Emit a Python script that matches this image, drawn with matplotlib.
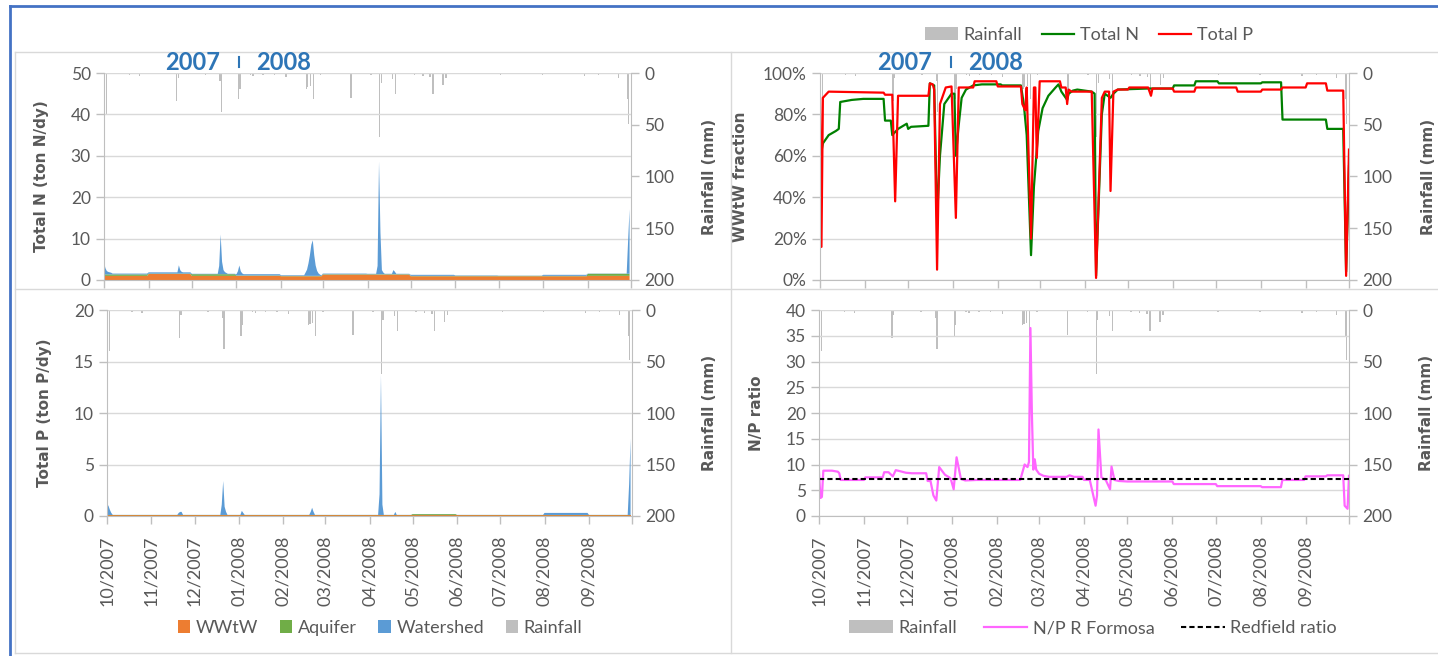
import matplotlib
matplotlib.use('Agg')
import matplotlib.pyplot as plt
from matplotlib.lines import Line2D
import numpy as np

plt.rcParams['font.family'] = ['Lato', 'DejaVu Sans']

W, H = 1438, 656

# days counted from 01/10/2007 (hydrological year 2007/2008)
month_labels = ['10/2007', '11/2007', '12/2007', '01/2008', '02/2008', '03/2008',
                '04/2008', '05/2008', '06/2008', '07/2008', '08/2008', '09/2008']
month_lengths = [31, 30, 31, 31, 29, 31, 30, 31, 30, 31, 31, 30]

# rainfall (mm) on the days it rained
rain_days = [0, 1, 9, 17, 24, 38, 50, 51, 62, 70, 80, 81, 93, 94, 101, 103, 110, 118,
             126, 140, 141, 143, 145, 150, 160, 171, 185, 191, 192, 200, 202, 215,
             221, 226, 228, 235, 237, 250, 275, 304, 318, 333, 343, 357, 363, 364]
rain_mm = [16, 40, 1, 2, 3, 1, 27, 5, 1, 2, 8, 38, 25, 15, 2, 3, 2, 2,
           4, 15, 14, 13, 25, 2, 1, 24, 2, 62, 10, 6, 20, 2,
           3, 4, 20, 12, 5, 1, 2, 2, 1, 3, 2, 5, 25, 49]

# Total N loads (ton N/dy): monthly WWtW and aquifer, daily watershed
wwtw_n = [1.0, 1.45, 1.0, 1.0, 0.9, 1.3, 1.3, 0.9, 0.9, 0.9, 0.9, 1.0]
aquifer_n = [0.35, 0.1, 0.4, 0.1, 0.1, 0.1, 0.1, 0.1, 0.1, 0.1, 0.1, 0.5]
watershed_n_base = [0.2, 0.3, 0.1, 0.3, 0.15, 0.15, 0.1, 0.25, 0.1, 0.05, 0.25, 0.05]
ws_n_days = [0, 1, 2, 3, 4, 5, 52, 53, 54, 80, 81, 82, 83, 84, 85, 93, 94, 95, 96,
             140, 141, 142, 143, 144, 145, 146, 147, 148, 149, 150,
             190, 191, 192, 193, 194, 201, 202, 364, 365]
ws_n_vals = [3.0, 1.5, 0.8, 0.6, 0.5, 0.4, 2.0, 0.8, 0.4, 2.0, 9.6, 3.0, 1.0, 0.5, 0.3,
             1.0, 2.4, 1.0, 0.5,
             0.8, 1.5, 3.0, 5.0, 7.5, 8.6, 5.0, 2.5, 1.2, 0.6, 0.3,
             2.0, 27.2, 10.0, 1.0, 0.4, 1.0, 0.6, 8.0, 15.6]

# Total P loads (ton P/dy)
wwtw_p = [0.08] * 12
aquifer_p = [0.02, 0.02, 0.02, 0.02, 0.02, 0.02, 0.02, 0.1, 0.02, 0.02, 0.02, 0.02]
watershed_p_base = [0.01, 0.01, 0.01, 0.01, 0.01, 0.01, 0.01, 0.01, 0.01, 0.01, 0.2, 0.01]
ws_p_days = [0, 1, 2, 3, 50, 51, 52, 80, 81, 82, 83, 94, 95, 142, 143, 144,
             190, 191, 192, 201, 364, 365]
ws_p_vals = [1.0, 0.9, 0.5, 0.2, 0.2, 0.3, 0.3, 1.0, 3.3, 0.8, 0.3, 0.4, 0.2, 0.3, 0.7, 0.3,
             2.0, 13.6, 1.0, 0.3, 3.0, 7.4]

# WWtW fraction of the loads (%)
frac_n_days = [0, 1, 2, 6, 11, 13, 14, 22, 30, 44, 45, 49, 50, 54, 60, 61, 63, 75, 76, 79,
               81, 83, 86, 91, 93, 94, 96, 98, 101, 106, 112, 125, 126, 139, 141, 143, 146,
               148, 151, 154, 158, 163, 165, 167, 171, 172, 175, 178, 188, 190, 191, 195,
               197, 201, 203, 206, 227, 244, 245, 259, 260, 275, 276, 305, 306, 319, 320,
               350, 351, 362, 364, 366]
frac_n_vals = [55, 62, 66, 70, 72, 73, 86, 87, 87.5, 87.5, 77, 77, 70, 73, 75.5, 73, 74, 74.5, 95, 94,
               30, 60, 85, 90, 90, 60, 75, 88, 92, 94, 94.5, 94.5, 94, 94, 85, 70, 12,
               45, 72, 83, 89, 93, 94.5, 91, 87, 90, 91.5, 92, 91, 90, 2, 80,
               90, 88, 90, 92, 92.5, 92.5, 94, 94, 96, 96, 95, 95, 95.5, 95.5, 77.5,
               77.5, 73, 73, 4, 55]
frac_p_days = [0, 1, 2, 6, 44, 45, 50, 52, 54, 75, 76, 78, 79, 81, 83, 87, 91, 94, 96,
               106, 107, 122, 123, 139, 140, 142, 143, 146, 148, 149, 150, 152, 166, 167,
               170, 171, 172, 174, 188, 191, 195, 197, 200, 201, 203, 206, 213, 214, 227,
               229, 230, 244, 245, 259, 260, 288, 289, 305, 306, 319, 320, 336, 337, 350,
               351, 362, 364, 366]
frac_p_vals = [88, 16, 88, 91, 90.5, 89.5, 89.5, 38, 89, 89, 95, 94.5, 92, 5, 85, 93, 93.5, 30, 93,
               93, 96, 96, 93.5, 93.5, 85, 82, 93, 20, 93, 93, 59, 96, 96, 93,
               93, 85, 92, 91, 91, 1, 88, 91, 91, 43, 91, 92, 92, 93, 93,
               89, 92.5, 92.5, 91, 91, 93, 93, 91, 91, 92, 92, 93, 93, 95, 95,
               91.5, 91.5, 2, 63]

# N/P ratio of the Ria Formosa loads
np_days = [0, 1, 2, 3, 9, 13, 14, 15, 31, 32, 44, 45, 48, 51, 53, 56, 60, 64, 74, 75, 77, 79,
           81, 83, 87, 90, 91, 93, 95, 98, 101, 109, 139, 142, 144, 145, 146, 147, 148, 149,
           150, 152, 155, 159, 171, 173, 176, 182, 183, 187, 191, 192, 193, 195, 198, 201,
           202, 204, 207, 213, 244, 245, 274, 275, 305, 306, 319, 320, 335, 336, 350, 351,
           362, 363, 365, 366]
np_vals = [8.5, 3.5, 3.7, 8.8, 8.8, 8.6, 8.3, 7.0, 7.0, 7.5, 7.5, 8.5, 8.5, 7.7, 8.9, 8.7, 8.4,
           8.3, 8.3, 6.8, 6.8, 4.0, 3.0, 9.5, 8.0, 7.5, 7.2, 5.2, 11.4, 7.2, 6.9, 7.0, 7.0,
           10.0, 9.5, 10.5, 36.5, 20.0, 9.0, 11.0, 9.0, 8.2, 7.8, 7.6, 7.6, 7.9, 7.6, 7.6,
           7.0, 7.0, 2.0, 4.0, 16.8, 7.5, 7.0, 5.2, 9.6, 7.0, 6.8, 6.7, 6.7, 6.2, 6.2, 5.8,
           5.8, 5.6, 5.6, 7.0, 7.0, 7.7, 7.7, 7.9, 7.9, 2.0, 1.4, 7.8]
redfield_days = [0, 366]
redfield_vals = [7.2, 7.2]

GREY_TXT = '#595959'
AXIS_COL = '#BFBFBF'
GRID_COL = '#D9D9D9'
RAIN_COL = '#BFBFBF'
BLUE_TXT = '#2E75B6'

days = np.arange(sum(month_lengths))
month_starts = np.concatenate([[0], np.cumsum(month_lengths)])


def daily(monthly):
    return np.repeat(np.array(monthly, dtype=float), month_lengths)


def axes_px(x0, x1, ytop, ybot):
    return [x0 / W, 1 - ybot / H, (x1 - x0) / W, (ybot - ytop) / H]


def style_axes(ax, ylim, yticks, ylabel, lab_x, show_dates):
    ax.set_xlim(0, month_starts[-1])
    ax.set_ylim(*ylim)
    ax.set_yticks(yticks)
    ax.set_xticks(month_starts)
    if show_dates:
        ax.set_xticklabels(month_labels + [''], rotation=90)
    else:
        ax.set_xticklabels([])
    ax.grid(axis='y', color=GRID_COL, lw=1)
    ax.set_axisbelow(True)
    for s in ['top', 'right']:
        ax.spines[s].set_visible(False)
    for s in ['left', 'bottom']:
        ax.spines[s].set_color(AXIS_COL)
    ax.tick_params(axis='both', colors=AXIS_COL, labelcolor=GREY_TXT, labelsize=12.5,
                   direction='out', length=6, width=1)
    ax.tick_params(axis='x', labelsize=13, pad=8)
    ax.set_ylabel(ylabel, fontsize=11, fontweight='bold', color=GREY_TXT,
                  family='DejaVu Sans')
    ax.yaxis.set_label_coords(lab_x, 0.5)


def rain_axis(ax, lab_x):
    ax2 = ax.twinx()
    bars = ax2.bar(np.array(rain_days) + 0.5, rain_mm, width=0.9, color=RAIN_COL,
                   linewidth=0)
    ax2.set_ylim(200, 0)
    ax2.set_yticks([0, 50, 100, 150, 200])
    for s in ['top', 'left', 'bottom']:
        ax2.spines[s].set_visible(False)
    ax2.spines['right'].set_color(AXIS_COL)
    ax2.tick_params(axis='y', colors=AXIS_COL, labelcolor=GREY_TXT, labelsize=12.5,
                    direction='out', length=6, width=1)
    ax2.set_ylabel('Rainfall (mm)', fontsize=11, fontweight='bold', color=GREY_TXT,
                   family='DejaVu Sans')
    ax2.yaxis.set_label_coords(lab_x, 0.5)
    ax.set_zorder(ax2.get_zorder() + 1)
    ax.patch.set_visible(False)
    return bars


fig = plt.figure(figsize=(W / 100, H / 100), dpi=100)

# frames of the original spreadsheet figure
def fig_line(x0, y0, x1, y1, **kw):
    fig.add_artist(Line2D([x0 / W, x1 / W], [1 - y0 / H, 1 - y1 / H],
                          transform=fig.transFigure, **kw))

fig_line(10, 6, W, 6, color='#4472C4', lw=2)
fig_line(10, 6, 10, H, color='#4472C4', lw=2)
fig_line(15, 52, W, 52, color=GRID_COL, lw=1)
fig_line(15, 52, 15, 653, color=GRID_COL, lw=1)
fig_line(15, 653, W, 653, color=GRID_COL, lw=1)
fig_line(15, 289, W, 289, color=GRID_COL, lw=1)
fig_line(731, 52, 731, 653, color=GRID_COL, lw=1)

# --- Total N loads
ax_n = fig.add_axes(axes_px(104, 631, 73, 280))
rain_axis(ax_n, 1.135)
ws_n = daily(watershed_n_base)
ws_n[ws_n_days] = ws_n_vals
ax_n.stackplot(days, daily(wwtw_n), daily(aquifer_n), ws_n,
               colors=['#ED7D31', '#70AD47', '#5B9BD5'], linewidth=0)
style_axes(ax_n, (0, 50), [0, 10, 20, 30, 40, 50], 'Total N (ton N/dy)', -0.104, False)

# --- WWtW fraction
ax_f = fig.add_axes(axes_px(820, 1349, 73, 280))
rain_f = rain_axis(ax_f, 1.136)
ln_n, = ax_f.plot(frac_n_days, np.array(frac_n_vals) / 100, color='#008000', lw=1.6)
ln_p, = ax_f.plot(frac_p_days, np.array(frac_p_vals) / 100, color='#FF0000', lw=1.6)
style_axes(ax_f, (0, 1), [0, 0.2, 0.4, 0.6, 0.8, 1.0], 'WWtW fraction', -0.136, False)
ax_f.set_yticklabels(['0%', '20%', '40%', '60%', '80%', '100%'])

# --- Total P loads
ax_p = fig.add_axes(axes_px(107, 632, 310, 516))
rain_p = rain_axis(ax_p, 1.133)
ws_p = daily(watershed_p_base)
ws_p[ws_p_days] = ws_p_vals
polys = ax_p.stackplot(days, daily(wwtw_p), daily(aquifer_p), ws_p,
                       colors=['#ED7D31', '#70AD47', '#5B9BD5'], linewidth=0)
style_axes(ax_p, (0, 20), [0, 5, 10, 15, 20], 'Total P (ton P/dy)', -0.105, True)

# --- N/P ratio
ax_r = fig.add_axes(axes_px(819, 1349, 310, 516))
rain_r = rain_axis(ax_r, 1.132)
ln_np, = ax_r.plot(np_days, np_vals, color='#FF66FF', lw=1.6)
ln_rf, = ax_r.plot(redfield_days, redfield_vals, color='black', lw=1.5, dashes=(2.5, 1.5))
style_axes(ax_r, (0, 40), [0, 5, 10, 15, 20, 25, 30, 35, 40], 'N/P ratio', -0.104, True)

# hydrological year marks
for x07, xbar, x08 in [(193, 239, 284), (905, 951, 996)]:
    fig.text(x07 / W, 1 - 63 / H, '2007', ha='center', va='center', fontsize=17,
             fontweight='bold', color=BLUE_TXT)
    fig.text(x08 / W, 1 - 63 / H, '2008', ha='center', va='center', fontsize=17,
             fontweight='bold', color=BLUE_TXT)
    fig_line(xbar, 57, xbar, 67, color=BLUE_TXT, lw=1.5)

# legends
fig.legend([rain_f, ln_n, ln_p], ['Rainfall', 'Total N', 'Total P'], loc='center',
           bbox_to_anchor=(1089 / W, 1 - 35 / H), ncol=3, frameon=False, fontsize=13,
           handlelength=1.8, handletextpad=0.3, columnspacing=1.1, labelcolor=GREY_TXT)
fig.legend(list(polys) + [rain_p], ['WWtW', 'Aquifer', 'Watershed', 'Rainfall'],
           loc='center', bbox_to_anchor=(380 / W, 1 - 628 / H), ncol=4, frameon=False,
           fontsize=13, handlelength=0.7, handleheight=0.7, handletextpad=0.3,
           columnspacing=1.2, labelcolor=GREY_TXT)
fig.legend([rain_r, ln_np, ln_rf], ['Rainfall', 'N/P R Formosa', 'Redfield ratio'],
           loc='center', bbox_to_anchor=(1093 / W, 1 - 628 / H), ncol=3, frameon=False,
           fontsize=13, handlelength=2.4, handletextpad=0.3, columnspacing=1.5,
           labelcolor=GREY_TXT)

fig.savefig('out.png', dpi=100)
